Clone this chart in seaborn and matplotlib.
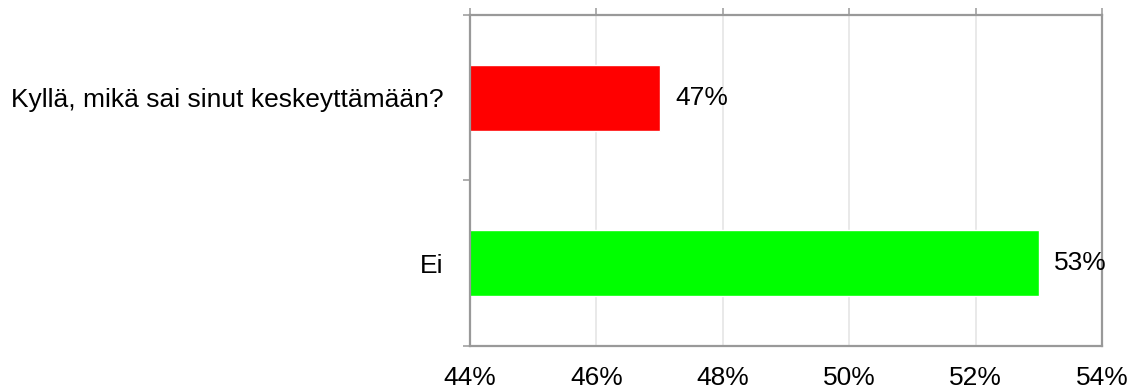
import matplotlib
matplotlib.use("Agg")
import matplotlib.pyplot as plt
from matplotlib.ticker import FixedLocator, FuncFormatter
import seaborn as sns
import pandas as pd

categories = ["Kyllä, mikä sai sinut keskeyttämään?", "Ei"]
values = [47, 53]
bar_colors = ["#ff0000", "#00ff00"]
x_ticks = [44, 46, 48, 50, 52, 54]

sns.set_style("white")
plt.rcParams["font.family"] = ["Liberation Sans", "DejaVu Sans"]
plt.rcParams["text.color"] = "black"
plt.rcParams["xtick.labelcolor"] = "black"
plt.rcParams["ytick.labelcolor"] = "black"

df = pd.DataFrame({"answer": categories, "share": values})

fig = plt.figure(figsize=(11.42, 3.89), dpi=100)
ax = fig.add_axes([0.4116, 0.1105, 0.5534, 0.851])

sns.barplot(data=df, x="share", y="answer", hue="answer", palette=bar_colors,
            legend=False, width=0.4, orient="h", saturation=1, ax=ax)

ax.set_xlim(44, 54)
ax.set_ylim(1.5, -0.5)
ax.set_xlabel("")
ax.set_ylabel("")

spine_col = "#999999"
for s in ax.spines.values():
    s.set_visible(True)
    s.set_color(spine_col)
    s.set_linewidth(1.6)

fs = 19

ax.xaxis.set_major_locator(FixedLocator(x_ticks))
ax.xaxis.set_major_formatter(FuncFormatter(lambda v, p: f"{v:.0f}%"))
ax.grid(axis="x", color="#e3e3e3", linewidth=1.1)
ax.set_axisbelow(True)
ax.tick_params(axis="x", top=True, bottom=False, labelbottom=True,
               direction="out", length=5, width=1.1, color=spine_col,
               labelsize=fs, labelcolor="black", pad=9.5)

# category labels at band centres, tick marks at band boundaries
ax.yaxis.set_minor_locator(FixedLocator([-0.5, 0.5, 1.5]))
ax.tick_params(axis="y", which="major", length=0, labelsize=fs,
               labelcolor="black", pad=19)
ax.tick_params(axis="y", which="minor", left=True, length=5, width=1.1,
               color=spine_col)

for cont in ax.containers:
    ax.bar_label(cont, labels=[f"{v:.0f}%" for v in cont.datavalues],
                 padding=11, fontsize=fs, color="black")

fig.savefig("out.png", dpi=100)
